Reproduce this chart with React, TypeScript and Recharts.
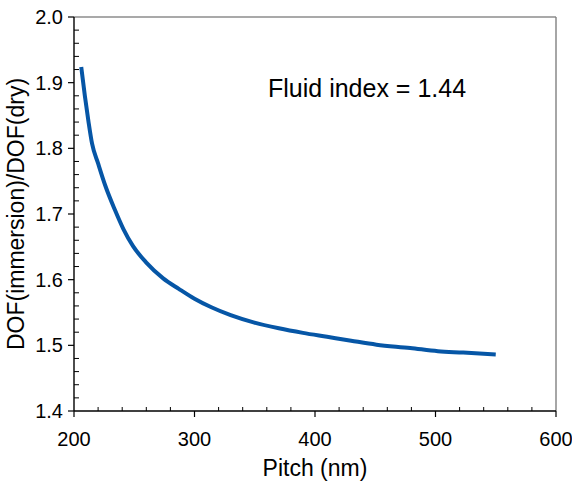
import React from "react";
import { Label, Line, LineChart, ReferenceLine, XAxis, YAxis } from "recharts";

// DOF gain of immersion vs dry
const pitchNm = [206, 209, 212, 215, 220, 226, 234, 241, 249, 260, 274, 287, 300, 314, 330, 349, 370, 390, 410, 430, 451, 479, 502, 523, 550];
const dofRatio = [1.924, 1.88, 1.841, 1.807, 1.777, 1.743, 1.706, 1.677, 1.651, 1.626, 1.602, 1.586, 1.571, 1.558, 1.546, 1.535, 1.526, 1.519, 1.513, 1.507, 1.501, 1.496, 1.491, 1.489, 1.486];

const xMajorTicks = [200, 300, 400, 500, 600];
const xMinorTicks = [220, 240, 260, 280, 320, 340, 360, 380, 420, 440, 460, 480, 520, 540, 560, 580];
const yMajorTicks = [1.4, 1.5, 1.6, 1.7, 1.8, 1.9, 2.0];
const yMinorTicks = [1.42, 1.44, 1.46, 1.48, 1.52, 1.54, 1.56, 1.58, 1.62, 1.64, 1.66, 1.68, 1.72, 1.74, 1.76, 1.78, 1.82, 1.84, 1.86, 1.88, 1.92, 1.94, 1.96, 1.98];

const FONT = "Arial, 'Liberation Sans', Helvetica, sans-serif";
const LINE_COLOR = "#0656a6";

const chartData = pitchNm.map((p, i) => ({ pitch: p, ratio: dofRatio[i] }));

function XTick(props: any) {
  const { x, y, payload } = props;
  const major = xMajorTicks.includes(payload.value);
  if (!major) {
    return <line x1={x} x2={x} y1={y} y2={y - 4} stroke='#000' strokeWidth={1} />;
  }
  return (
    <g>
      <line x1={x} x2={x} y1={y} y2={y + 6} stroke='#000' strokeWidth={1.2} />
      <text x={x} y={y + 35} textAnchor='middle' fontSize={20} fill='#000' fontFamily={FONT}>
        {payload.value}
      </text>
    </g>
  );
}

function YTick(props: any) {
  const { x, y, payload } = props;
  const major = yMajorTicks.some((t) => Math.abs(t - payload.value) < 1e-6);
  if (!major) {
    return <line x1={x} x2={x + 5} y1={y} y2={y} stroke='#000' strokeWidth={1} />;
  }
  return (
    <g>
      <line x1={x} x2={x - 6} y1={y} y2={y} stroke='#000' strokeWidth={1.2} />
      <text x={x - 11} y={y + 7} textAnchor='end' fontSize={20} fill='#000' fontFamily={FONT}>
        {Number(payload.value).toFixed(1)}
      </text>
    </g>
  );
}

function XTitle(props: any) {
  const vb = props.viewBox;
  return (
    <text x={vb.x + vb.width / 2} y={vb.y + 65} textAnchor='middle' fontSize={23} fill='#000' fontFamily={FONT}>
      Pitch (nm)
    </text>
  );
}

function YTitle(props: any) {
  const vb = props.viewBox;
  const cx = 24;
  const cy = vb.y + vb.height / 2;
  return (
    <text x={cx} y={cy} transform={`rotate(-90 ${cx} ${cy})`} textAnchor='middle' fontSize={23} fill='#000' fontFamily={FONT}>
      DOF(immersion)/DOF(dry)
    </text>
  );
}

export default function App() {
  return (
    <div style={{ position: "absolute", left: 0, top: 0, width: 572, height: 483, background: "#fff" }}>
      <LineChart width={572} height={483} data={chartData} margin={{ top: 17, right: 16, bottom: 0, left: 0 }}>
        <XAxis
          dataKey='pitch'
          type='number'
          domain={[200, 600]}
          ticks={[...xMajorTicks, ...xMinorTicks].sort((a, b) => a - b)}
          interval={0}
          tickSize={0}
          tickMargin={0}
          height={72}
          axisLine={{ stroke: "#000", strokeWidth: 1.4 }}
          tickLine={false}
          tick={(p: any) => <XTick {...p} />}
        >
          <Label content={(p: any) => <XTitle {...p} />} />
        </XAxis>
        <YAxis
          type='number'
          domain={[1.4, 2.0]}
          ticks={[...yMajorTicks, ...yMinorTicks].sort((a, b) => a - b)}
          interval={0}
          tickSize={0}
          tickMargin={0}
          width={74}
          axisLine={{ stroke: "#000", strokeWidth: 1.4 }}
          tickLine={false}
          tick={(p: any) => <YTick {...p} />}
        >
          <Label content={(p: any) => <YTitle {...p} />} />
        </YAxis>
        <ReferenceLine y={2.0} stroke='#555' strokeWidth={1.2} />
        <ReferenceLine x={600} stroke='#808080' strokeWidth={1.4} />
        <Line type='monotone' dataKey='ratio' stroke={LINE_COLOR} strokeWidth={4} dot={false} activeDot={false} isAnimationActive={false} />
      </LineChart>
      <div
        style={{
          position: "absolute",
          left: 268,
          top: 74,
          fontFamily: FONT,
          fontSize: 25,
          color: "#000",
          whiteSpace: "nowrap",
        }}
      >
        Fluid index = 1.44
      </div>
    </div>
  );
}
